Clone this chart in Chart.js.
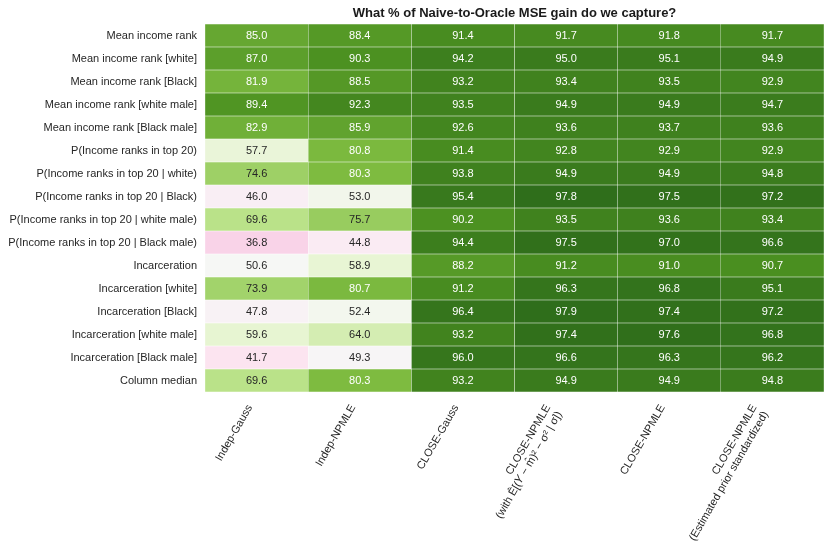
<!DOCTYPE html>
<html>
<head>
<meta charset="utf-8">
<script src="https://cdn.jsdelivr.net/npm/chart.js@4.4.1/dist/chart.umd.min.js"></script>
<style>
html, body { margin: 0; padding: 0; background: #fff; }
#wrap { width: 830px; height: 547px; }
</style>
</head>
<body>
<div id="wrap"><canvas id="heat"></canvas></div>
<script>
const titleText = 'What % of Naive-to-Oracle MSE gain do we capture?';

const rowLabels = [
    'Mean income rank',
    'Mean income rank [white]',
    'Mean income rank [Black]',
    'Mean income rank [white male]',
    'Mean income rank [Black male]',
    'P(Income ranks in top 20)',
    'P(Income ranks in top 20 | white)',
    'P(Income ranks in top 20 | Black)',
    'P(Income ranks in top 20 | white male)',
    'P(Income ranks in top 20 | Black male)',
    'Incarceration',
    'Incarceration [white]',
    'Incarceration [Black]',
    'Incarceration [white male]',
    'Incarceration [Black male]',
    'Column median'
];

const colLabels = [
    ['Indep-Gauss'],
    ['Indep-NPMLE'],
    ['CLOSE-Gauss'],
    ['CLOSE-NPMLE', '(with \u00ca[(\u{1D44C} \u2212 m\u0302)\u00b2 \u2212 \u03c3\u00b2 | \u03c3])'],
    ['CLOSE-NPMLE'],
    ['CLOSE-NPMLE', '(Estimated prior standardized)']
];

// values per column, top row to bottom row
const indepGauss    = [85.0, 87.0, 81.9, 89.4, 82.9, 57.7, 74.6, 46.0, 69.6, 36.8, 50.6, 73.9, 47.8, 59.6, 41.7, 69.6];
const indepNpmle    = [88.4, 90.3, 88.5, 92.3, 85.9, 80.8, 80.3, 53.0, 75.7, 44.8, 58.9, 80.7, 52.4, 64.0, 49.3, 80.3];
const closeGauss    = [91.4, 94.2, 93.2, 93.5, 92.6, 91.4, 93.8, 95.4, 90.2, 94.4, 88.2, 91.2, 96.4, 93.2, 96.0, 93.2];
const closeNpmleVar = [91.7, 95.0, 93.4, 94.9, 93.6, 92.8, 94.9, 97.8, 93.5, 97.5, 91.2, 96.3, 97.9, 97.4, 96.6, 94.9];
const closeNpmle    = [91.8, 95.1, 93.5, 94.9, 93.7, 92.9, 94.9, 97.5, 93.6, 97.0, 91.0, 96.8, 97.4, 97.6, 96.3, 94.9];
const closeNpmleStd = [91.7, 94.9, 92.9, 94.7, 93.6, 92.9, 94.8, 97.2, 93.4, 96.6, 90.7, 95.1, 97.2, 96.8, 96.2, 94.8];

const columns = [indepGauss, indepNpmle, closeGauss, closeNpmleVar, closeNpmle, closeNpmleStd];

// PiYG, vmin 0 / vmax 100
const piygStops = ['#8e0152', '#c51b7d', '#de77ae', '#f1b6da', '#fde0ef', '#f7f7f7',
                   '#e6f5d0', '#b8e186', '#7fbc41', '#4d9221', '#276419'];

const hexToRgb = (h) => [1, 3, 5].map(i => parseInt(h.substr(i, 2), 16));

const piygRgb = (v) => {
    const t = Math.min(1, Math.max(0, v / 100)) * (piygStops.length - 1);
    const i = Math.min(piygStops.length - 2, Math.floor(t));
    const f = t - i;
    const a = hexToRgb(piygStops[i]);
    const b = hexToRgb(piygStops[i + 1]);
    return a.map((c, k) => Math.round(c + (b[k] - c) * f));
};

const piyg = (v) => {
    const c = piygRgb(v);
    return `rgb(${c[0]},${c[1]},${c[2]})`;
};

// same rule as seaborn for annotation colour
const textColorFor = (v) => {
    const lin = piygRgb(v).map(c => {
        c = c / 255;
        return c <= 0.03928 ? c / 12.92 : Math.pow((c + 0.055) / 1.055, 2.4);
    });
    const lum = 0.2126 * lin[0] + 0.7152 * lin[1] + 0.0722 * lin[2];
    return lum > 0.408 ? '#262626' : '#ffffff';
};

const fontFamily = '"Liberation Sans", Arial, Helvetica, sans-serif';

// numbers in the cells
const cellText = {
    id: 'cellText',
    afterDatasetsDraw(chart) {
        const ctx = chart.ctx;
        ctx.save();
        ctx.font = `11px ${fontFamily}`;
        ctx.textAlign = 'center';
        ctx.textBaseline = 'middle';
        chart.data.datasets.forEach((ds, j) => {
            const meta = chart.getDatasetMeta(j);
            meta.data.forEach((bar, i) => {
                const v = columns[j][i];
                ctx.fillStyle = textColorFor(v);
                ctx.fillText(v.toFixed(1), (bar.x + bar.base) / 2, bar.y + 0.5);
            });
        });
        ctx.restore();
    }
};

// title centred over the heatmap and rotated column labels
const frameText = {
    id: 'frameText',
    afterDraw(chart) {
        const ctx = chart.ctx;
        const area = chart.chartArea;
        ctx.save();
        ctx.fillStyle = '#1a1a1a';
        ctx.font = `bold 13px ${fontFamily}`;
        ctx.textAlign = 'center';
        ctx.textBaseline = 'middle';
        ctx.fillText(titleText, (area.left + area.right) / 2, 13);

        const xScale = chart.scales.x;
        const theta = 60 * Math.PI / 180;
        const lh = 13.2;
        ctx.font = `11px ${fontFamily}`;
        ctx.fillStyle = '#262626';
        ctx.textAlign = 'right';
        ctx.textBaseline = 'top';
        colLabels.forEach((lines, j) => {
            const x = xScale.getPixelForValue(j + 0.5);
            const h = lines.length * lh;
            ctx.save();
            ctx.translate(x - h * Math.sin(theta), area.bottom + 11);
            ctx.rotate(-theta);
            lines.forEach((line, k) => ctx.fillText(line, 0, k * lh));
            ctx.restore();
        });
        ctx.restore();
    }
};

new Chart(document.getElementById('heat'), {
    type: 'bar',
    data: {
        labels: rowLabels,
        datasets: columns.map((vals, j) => ({
            label: colLabels[j].join(' '),
            data: vals.map(() => [j, j + 1]),
            backgroundColor: vals.map(piyg),
            borderColor: 'rgba(255,255,255,0.3)',
            borderWidth: 0.5,
            borderSkipped: false,
            grouped: false,
            barPercentage: 1,
            categoryPercentage: 1
        }))
    },
    options: {
        indexAxis: 'y',
        responsive: true,
        maintainAspectRatio: false,
        animation: false,
        layout: { padding: { top: 24, right: 6, bottom: 155, left: 0 } },
        scales: {
            x: { type: 'linear', min: 0, max: 6, display: false },
            y: {
                type: 'category',
                offset: true,
                grid: { display: false, drawTicks: false },
                border: { display: false },
                ticks: {
                    autoSkip: false,
                    padding: 8,
                    color: '#262626',
                    font: { family: fontFamily, size: 11 }
                },
                afterFit(scale) { scale.width = 205; }
            }
        },
        plugins: {
            legend: { display: false },
            tooltip: { enabled: false },
            title: { display: false }
        }
    },
    plugins: [cellText, frameText]
});
</script>
</body>
</html>
